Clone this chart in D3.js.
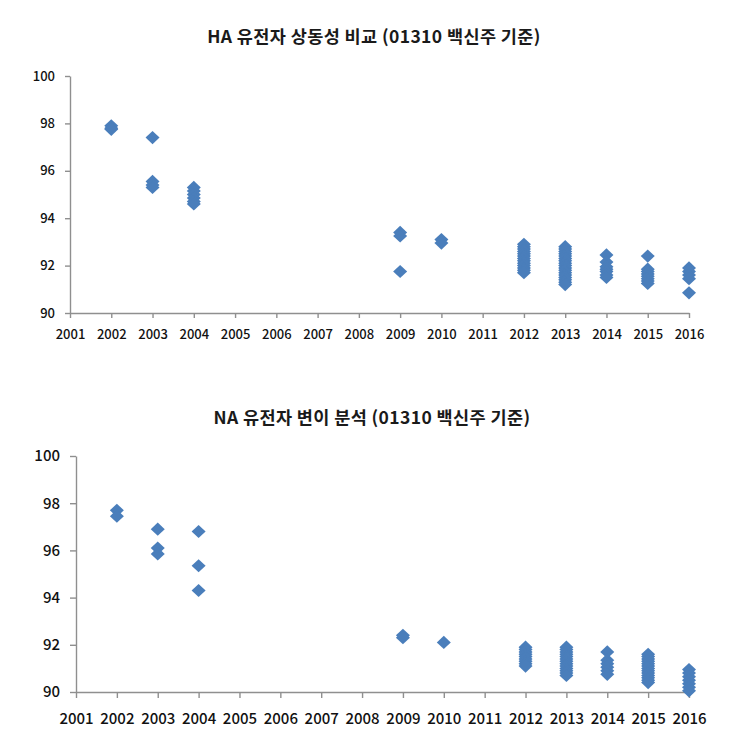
<!DOCTYPE html>
<html><head><meta charset="utf-8">
<script src="https://cdn.jsdelivr.net/npm/d3@7"></script>
<style>
body{margin:0;background:#fff;}
text{font-family:"Noto Sans CJK KR","Noto Sans",sans-serif;}
</style></head>
<body><svg id="c" width="748" height="751"></svg>
<script>
// ---- data ----
const years = [2001,2002,2003,2004,2005,2006,2007,2008,2009,2010,2011,2012,2013,2014,2015,2016];
const yTicks = [90,92,94,96,98,100];
const titleHA = "HA 유전자 상동성 비교 (01310 백신주 기준)";
const titleNA = "NA 유전자 변이 분석 (01310 백신주 기준)";

const haYears  = [2002,2003,2004,2009,2010,2012,2013,2014,2015,2016];
const haValues = [
  [97.9,97.8,97.75],
  [97.4,95.55,95.4,95.3],
  [95.3,95.15,95.0,94.85,94.7,94.6],
  [93.4,93.25,91.75],
  [93.1,92.95],
  [92.9,92.8,92.7,92.6,92.5,92.4,92.3,92.2,92.1,92.0,91.9,91.8,91.7],
  [92.8,92.7,92.6,92.5,92.4,92.3,92.2,92.1,92.0,91.9,91.8,91.7,91.6,91.5,91.4,91.3,91.2],
  [92.45,92.15,91.95,91.85,91.75,91.6,91.5],
  [92.4,91.85,91.75,91.65,91.55,91.45,91.35,91.25],
  [91.9,91.75,91.6,91.45,90.85]
];
const naYears  = [2002,2003,2004,2009,2010,2012,2013,2014,2015,2016];
const naValues = [
  [97.7,97.45],
  [96.9,96.1,95.85],
  [96.8,95.35,94.3],
  [92.4,92.3],
  [92.1],
  [91.9,91.8,91.7,91.6,91.5,91.4,91.3,91.2,91.1],
  [91.9,91.8,91.7,91.6,91.5,91.4,91.3,91.2,91.1,91.0,90.9,90.8,90.7],
  [91.7,91.35,91.2,91.05,90.9,90.75],
  [91.6,91.5,91.4,91.3,91.2,91.1,91.0,90.9,90.8,90.7,90.6,90.5,90.4],
  [90.95,90.8,90.65,90.5,90.35,90.2,90.05]
];

const svg = d3.select("#c");
svg.append("rect").attr("width",748).attr("height",751).attr("fill","#fff");
const color = "#4a7ebb";
const axisColor = "#8f8f8f";

function chart(cfg){
  const x = d3.scaleLinear().domain([2001,2016]).range([cfg.x0,cfg.x1]);
  const y = d3.scaleLinear().domain([90,100]).range([cfg.y0,cfg.y1]);
  const g = svg.append("g");
  g.append("text").attr("x",cfg.tx).attr("y",cfg.ty).attr("text-anchor","middle")
    .attr("font-weight","bold").attr("font-size",cfg.titleSize).attr("letter-spacing",0.4)
    .attr("fill","#1a1a1a").text(cfg.title);
  const ya = g.append("g").attr("transform",`translate(${cfg.x0},0)`)
    .call(d3.axisLeft(y).tickValues(yTicks).tickSize(cfg.tick).tickPadding(cfg.ypad).tickSizeOuter(0));
  const xa = g.append("g").attr("transform",`translate(0,${cfg.y0})`)
    .call(d3.axisBottom(x).tickValues(years).tickFormat(d3.format("d")).tickSize(cfg.tick).tickPadding(cfg.xpad).tickSizeOuter(0));
  [ya,xa].forEach(a=>{
    a.selectAll("path,line").attr("stroke",axisColor).attr("stroke-width",1.4);
    a.selectAll("text").attr("font-family",'"Noto Sans CJK KR","Noto Sans",sans-serif')
      .attr("font-size",cfg.labelSize).attr("fill","#111").attr("font-weight",cfg.labelWeight);
  });
  const pts = [];
  cfg.years.forEach((yr,i)=>cfg.values[i].forEach(v=>pts.push({yr,v})));
  const hw = 7, hh = 6.6;
  g.append("g").selectAll("path").data(pts).join("path")
    .attr("transform",d=>`translate(${x(d.yr)},${y(d.v)})`)
    .attr("d",`M0,${-hh}L${hw},0L0,${hh}L${-hw},0Z`)
    .attr("fill",color);
}

chart({x0:70,x1:689,y0:313,y1:76,tx:374,ty:43,title:titleHA,titleSize:17.5,tick:5,ypad:10,xpad:12,labelSize:13,labelWeight:500,years:haYears,values:haValues});
chart({x0:76,x1:689,y0:692,y1:456,tx:372,ty:424,title:titleNA,titleSize:17.5,tick:6,ypad:10,xpad:15,labelSize:15,labelWeight:500,years:naYears,values:naValues});
</script></body></html>
